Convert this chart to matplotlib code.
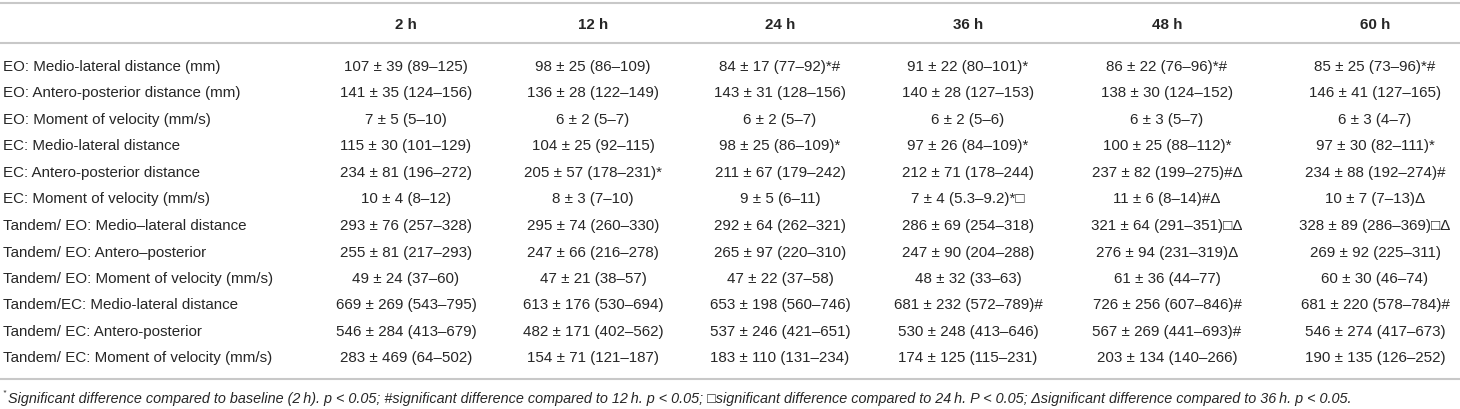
import matplotlib
matplotlib.use("Agg")
import matplotlib.pyplot as plt

# ---------------- data ----------------
columns = ["2 h", "12 h", "24 h", "36 h", "48 h", "60 h"]

row_labels = [
    "EO: Medio-lateral distance (mm)",
    "EO: Antero-posterior distance (mm)",
    "EO: Moment of velocity (mm/s)",
    "EC: Medio-lateral distance",
    "EC: Antero-posterior distance",
    "EC: Moment of velocity (mm/s)",
    "Tandem/ EO: Medio\u2013lateral distance",
    "Tandem/ EO: Antero\u2013posterior",
    "Tandem/ EO: Moment of velocity (mm/s)",
    "Tandem/EC: Medio-lateral distance",
    "Tandem/ EC: Antero-posterior",
    "Tandem/ EC: Moment of velocity (mm/s)",
]

col_2h = [
    "107 \u00b1 39 (89\u2013125)", "141 \u00b1 35 (124\u2013156)", "7 \u00b1 5 (5\u201310)",
    "115 \u00b1 30 (101\u2013129)", "234 \u00b1 81 (196\u2013272)", "10 \u00b1 4 (8\u201312)",
    "293 \u00b1 76 (257\u2013328)", "255 \u00b1 81 (217\u2013293)", "49 \u00b1 24 (37\u201360)",
    "669 \u00b1 269 (543\u2013795)", "546 \u00b1 284 (413\u2013679)", "283 \u00b1 469 (64\u2013502)",
]
col_12h = [
    "98 \u00b1 25 (86\u2013109)", "136 \u00b1 28 (122\u2013149)", "6 \u00b1 2 (5\u20137)",
    "104 \u00b1 25 (92\u2013115)", "205 \u00b1 57 (178\u2013231)*", "8 \u00b1 3 (7\u201310)",
    "295 \u00b1 74 (260\u2013330)", "247 \u00b1 66 (216\u2013278)", "47 \u00b1 21 (38\u201357)",
    "613 \u00b1 176 (530\u2013694)", "482 \u00b1 171 (402\u2013562)", "154 \u00b1 71 (121\u2013187)",
]
col_24h = [
    "84 \u00b1 17 (77\u201392)*#", "143 \u00b1 31 (128\u2013156)", "6 \u00b1 2 (5\u20137)",
    "98 \u00b1 25 (86\u2013109)*", "211 \u00b1 67 (179\u2013242)", "9 \u00b1 5 (6\u201311)",
    "292 \u00b1 64 (262\u2013321)", "265 \u00b1 97 (220\u2013310)", "47 \u00b1 22 (37\u201358)",
    "653 \u00b1 198 (560\u2013746)", "537 \u00b1 246 (421\u2013651)", "183 \u00b1 110 (131\u2013234)",
]
col_36h = [
    "91 \u00b1 22 (80\u2013101)*", "140 \u00b1 28 (127\u2013153)", "6 \u00b1 2 (5\u20136)",
    "97 \u00b1 26 (84\u2013109)*", "212 \u00b1 71 (178\u2013244)", "7 \u00b1 4 (5.3\u20139.2)*\u25a1",
    "286 \u00b1 69 (254\u2013318)", "247 \u00b1 90 (204\u2013288)", "48 \u00b1 32 (33\u201363)",
    "681 \u00b1 232 (572\u2013789)#", "530 \u00b1 248 (413\u2013646)", "174 \u00b1 125 (115\u2013231)",
]
col_48h = [
    "86 \u00b1 22 (76\u201396)*#", "138 \u00b1 30 (124\u2013152)", "6 \u00b1 3 (5\u20137)",
    "100 \u00b1 25 (88\u2013112)*", "237 \u00b1 82 (199\u2013275)#\u0394", "11 \u00b1 6 (8\u201314)#\u0394",
    "321 \u00b1 64 (291\u2013351)\u25a1\u0394", "276 \u00b1 94 (231\u2013319)\u0394", "61 \u00b1 36 (44\u201377)",
    "726 \u00b1 256 (607\u2013846)#", "567 \u00b1 269 (441\u2013693)#", "203 \u00b1 134 (140\u2013266)",
]
col_60h = [
    "85 \u00b1 25 (73\u201396)*#", "146 \u00b1 41 (127\u2013165)", "6 \u00b1 3 (4\u20137)",
    "97 \u00b1 30 (82\u2013111)*", "234 \u00b1 88 (192\u2013274)#", "10 \u00b1 7 (7\u201313)\u0394",
    "328 \u00b1 89 (286\u2013369)\u25a1\u0394", "269 \u00b1 92 (225\u2013311)", "60 \u00b1 30 (46\u201374)",
    "681 \u00b1 220 (578\u2013784)#", "546 \u00b1 274 (417\u2013673)", "190 \u00b1 135 (126\u2013252)",
]
cells = [col_2h, col_12h, col_24h, col_36h, col_48h, col_60h]

footnote = ("Significant difference compared to baseline (2\u2009h). p < 0.05; "
            "#significant difference compared to 12\u2009h. p < 0.05; "
            "\u25a1significant difference compared to 24\u2009h. P < 0.05; "
            "\u0394significant difference compared to 36\u2009h. p < 0.05.")

# ---------------- layout ----------------
W, H = 1460, 410
fig = plt.figure(figsize=(W / 100, H / 100), dpi=100)
ax = fig.add_axes([0, 0, 1, 1])
ax.set_xlim(0, W)
ax.set_ylim(H, 0)
ax.axis("off")

FAM = ["Liberation Sans", "DejaVu Sans"]
TXT = "#262626"
LINE = "#c8c8c8"
FS = 10.9

col_x = [406, 593, 780, 968, 1167, 1375]
label_x = 3
header_y = 25
row0_y = 67
row_step = 26.5
top_line, head_line, foot_line = 4, 44, 380
foot_y = 399

for yl in (top_line, head_line, foot_line):
    ax.plot([0, W], [yl, yl], color=LINE, lw=1.5, solid_capstyle="butt")

for x, c in zip(col_x, columns):
    ax.text(x, header_y, c, ha="center", va="center", fontsize=FS,
            fontweight="bold", color=TXT, family=FAM)

for i, lab in enumerate(row_labels):
    y = row0_y + i * row_step
    ax.text(label_x, y, lab, ha="left", va="center", fontsize=FS,
            color=TXT, family=FAM)
    for x, col in zip(col_x, cells):
        ax.text(x, y, col[i], ha="center", va="center", fontsize=FS,
                color=TXT, family=FAM)

ax.text(label_x, foot_y - 6, "*", ha="left", va="center", fontsize=6,
        color=TXT, family=FAM, style="italic")
ax.text(label_x + 5, foot_y, footnote, ha="left", va="center", fontsize=10.35,
        color=TXT, family=FAM, style="italic")

fig.savefig("out.png", dpi=100, facecolor="white")
